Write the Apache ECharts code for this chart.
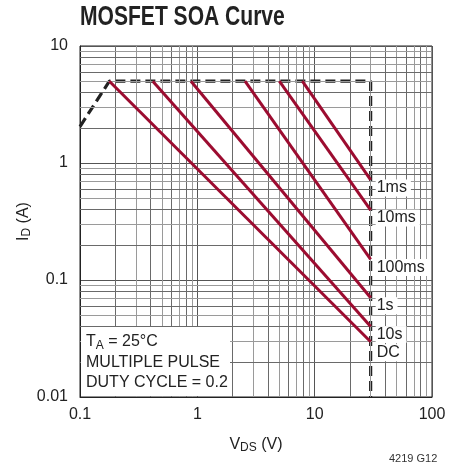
<!DOCTYPE html>
<html><head><meta charset="utf-8">
<script src="https://cdn.jsdelivr.net/npm/echarts@6/dist/echarts.min.js"></script>
<style>html,body{margin:0;padding:0;background:#fff}#c{width:460px;height:472px}</style>
</head><body><div id="c"></div>
<script>
// ---- data ----
const curveNames = ['1ms', '10ms', '100ms', '1s', '10s', 'DC'];
const curveStartV = [7.85, 5.0, 2.55, 0.883, 0.417, 0.178];
const curveStartI = [5, 5, 5, 5, 5, 5];
const curveEndV = [30, 30, 30, 30, 30, 30];
const curveEndI = [0.716, 0.396, 0.150, 0.0706, 0.040, 0.0297];
const boundaryV = [0.1, 0.178, 30, 30];
const boundaryI = [2.05, 5, 5, 0.01];
const xTickLabels = ['0.1', '1', '10', '100'];
const yTickLabels = ['0.01', '0.1', '1', '10'];

const FONT = 'Liberation Sans, Arial, sans-serif';
const chart = echarts.init(document.getElementById('c'), null, {renderer: 'canvas'});

// minor gridlines (2..9 per decade) — styling only
function minors(lo, hi) {
  const out = [];
  for (let d = lo; d < hi; d *= 10) for (let m = 2; m <= 9; m++) out.push({v: +(m * d).toPrecision(3), m});
  return out;
}
const xMin = minors(0.1, 100), yMin = minors(0.01, 10);
const gridLines = [];
xMin.forEach(o => gridLines.push({xAxis: o.v, lineStyle: {color: o.m % 2 ? '#9a9a9a' : '#6a6a6a'}}));
yMin.forEach(o => gridLines.push({yAxis: o.v, lineStyle: {color: o.m % 2 ? '#9a9a9a' : '#6a6a6a'}}));

const fmt = (labels, vals) => v => {
  for (let i = 0; i < vals.length; i++) if (Math.abs(Math.log10(v) - Math.log10(vals[i])) < 1e-6) return labels[i];
  return '';
};

const curveSeries = curveNames.map((n, i) => ({
  type: 'line', name: n, z: 5,
  data: [[curveStartV[i], curveStartI[i]], [curveEndV[i], curveEndI[i]]],
  symbol: 'none', silent: true,
  lineStyle: {color: '#9c0c30', width: 3},
  endLabel: {
    show: true, formatter: n, distance: 0,
    offset: [5, n === 'DC' ? 11 : 8],
    color: '#222', fontSize: 16, fontFamily: FONT,
    backgroundColor: '#fff', padding: [1, 4, 0, 1]
  },
  labelLayout: {hideOverlap: false}
}));

chart.setOption({
  animation: false,
  grid: {left: 80, right: 28, top: 46, bottom: 75, show: true, borderColor: '#222', borderWidth: 1, backgroundColor: 'transparent'},
  xAxis: {
    type: 'log', logBase: 10, min: 0.1, max: 100,
    name: '{a|V}{s|DS}{a| (V)}', nameLocation: 'middle', nameGap: 39, nameMoveOverlap: false,
    nameTextStyle: {rich: {a: {fontSize: 16, color: '#222', fontFamily: FONT}, s: {fontSize: 12, color: '#222', fontFamily: FONT, verticalAlign: 'bottom', padding: [6, 0, 0, 0]}}},
    axisLine: {show: true, lineStyle: {color: '#222'}},
    axisTick: {show: false},
    axisLabel: {fontSize: 16, color: '#222', fontFamily: FONT, margin: 10, formatter: fmt(xTickLabels, [0.1, 1, 10, 100])},
    splitLine: {show: true, lineStyle: {color: '#555', width: 1}}
  },
  yAxis: {
    type: 'log', logBase: 10, min: 0.01, max: 10,
    name: '{a|I}{s|D}{a| (A)}', nameLocation: 'middle', nameGap: 47, nameMoveOverlap: false,
    nameTextStyle: {rich: {a: {fontSize: 16, color: '#222', fontFamily: FONT}, s: {fontSize: 12, color: '#222', fontFamily: FONT, padding: [6, 0, 0, 0]}}},
    axisLine: {show: true, lineStyle: {color: '#222'}},
    axisTick: {show: false},
    axisLabel: {fontSize: 16, color: '#222', fontFamily: FONT, margin: 12, formatter: fmt(yTickLabels, [0.01, 0.1, 1, 10])},
    splitLine: {show: true, lineStyle: {color: '#555', width: 1}}
  },
  series: [
    {
      type: 'line', data: [], z: 1, silent: true,
      markLine: {silent: true, symbol: 'none', animation: false, label: {show: false},
        lineStyle: {type: 'solid', width: 1}, data: gridLines}
    },
    {
      type: 'line', name: 'boundary', z: 4, silent: true,
      data: boundaryV.map((v, i) => [v, boundaryI[i]]),
      symbol: 'none', lineStyle: {color: '#222', width: 3.2, type: [10, 5]}
    },
    ...curveSeries
  ],
  graphic: [
    {type: 'text', z: 11, x: 80, y: 4, scaleX: 0.78, originX: 0, originY: 0,
      style: {text: 'MOSFET SOA Curve', fontSize: 27, fontWeight: 'bold', fill: '#222', fontFamily: FONT}},
    {type: 'rect', z: 10, shape: {x: 81, y: 327, width: 149, height: 69}, style: {fill: '#fff'}},
    {type: 'text', z: 11, left: 86, top: 332, style: {
      text: '{a|T}{s|A}{a| = 25°C}\n{a|MULTIPLE PULSE}\n{a|DUTY CYCLE = 0.2}',
      rich: {a: {fontSize: 16, fill: '#222', fontFamily: FONT, lineHeight: 20.5},
             s: {fontSize: 12, fill: '#222', fontFamily: FONT, lineHeight: 20.5, padding: [8, 0, 0, 0]}}
    }},
    {type: 'text', z: 11, left: 389, top: 453, style: {text: '4219 G12', fontSize: 11, fill: '#333', fontFamily: FONT}}
  ]
});
</script></body></html>
